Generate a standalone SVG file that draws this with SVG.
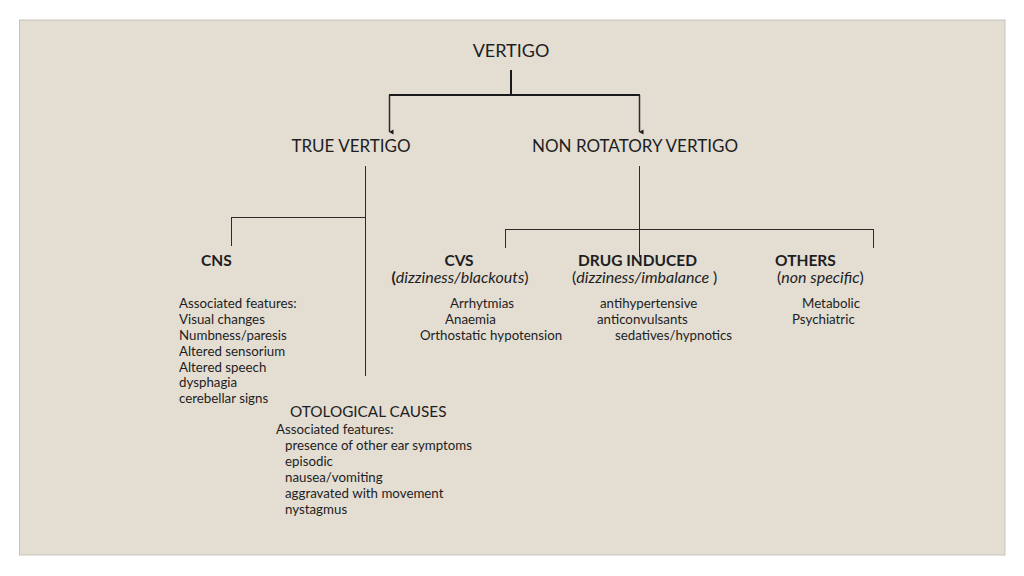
<svg xmlns="http://www.w3.org/2000/svg" width="1024" height="576" viewBox="0 0 1024 576">
<defs>
<style>
text{font-family:Lato,"Open Sans","Liberation Sans",sans-serif;fill:#1e1e1e}
.t{font-size:18px}
.h{font-size:17px}
.b{font-size:15.5px;font-weight:bold}
.s{font-size:16px}
.l{font-size:13.3px}
.ln{stroke:#2a2a2a;stroke-width:1;fill:none}
.th{stroke:#1a1a1a;stroke-width:2;fill:none}
</style>
<marker id="ah" markerWidth="6" markerHeight="6" refX="3" refY="5" orient="auto" markerUnits="userSpaceOnUse">
<path d="M0.5,1 L3,5.5 L5.5,1 Z" fill="#1a1a1a"/>
</marker>
</defs>
<rect x="0" y="0" width="1024" height="576" fill="#ffffff"/>
<rect x="19.5" y="20" width="985.5" height="535" fill="#e3ddd2" stroke="#c8c4bb" stroke-width="1"/>
<g id="connectors">
<path class="th" d="M511,70 V96"/>
<path class="th" d="M389,95 H640"/>
<path class="ln" d="M389.5,95 V132" marker-end="url(#ah)" style="stroke-width:1.5"/>
<path class="ln" d="M639.5,95 V132" marker-end="url(#ah)" style="stroke-width:1.5"/>
<path class="ln" d="M365.5,166 V376"/>
<path class="ln" d="M231.5,217.5 H365.5"/>
<path class="ln" d="M231.5,217 V246"/>
<path class="ln" d="M639.5,166 V257"/>
<path class="ln" d="M505.5,229.5 H873.5"/>
<path class="ln" d="M505.5,229 V248"/>
<path class="ln" d="M873.5,229 V248"/>
</g>
<g id="vertigo"><text class="t" x="511" y="57" text-anchor="middle">VERTIGO</text></g>
<g id="true-vertigo"><text class="h" x="351" y="152" text-anchor="middle">TRUE VERTIGO</text></g>
<g id="non-rotatory"><text class="h" x="635" y="152" text-anchor="middle">NON ROTATORY VERTIGO</text></g>
<g id="cns">
<text class="b" x="201" y="266">CNS</text>
<text class="l" x="179" y="308">Associated features:</text>
<text class="l" x="179" y="324">Visual changes</text>
<text class="l" x="179" y="340">Numbness/paresis</text>
<text class="l" x="179" y="356">Altered sensorium</text>
<text class="l" x="179" y="372">Altered speech</text>
<text class="l" x="179" y="387">dysphagia</text>
<text class="l" x="179" y="403">cerebellar signs</text>
</g>
<g id="cvs">
<text class="b" x="459" y="266" text-anchor="middle">CVS</text>
<text class="s" x="460" y="283" text-anchor="middle"><tspan font-weight="bold">(</tspan><tspan font-style="italic">dizziness/blackouts</tspan>)</text>
<text class="l" x="450" y="308">Arrhytmias</text>
<text class="l" x="445" y="324">Anaemia</text>
<text class="l" x="420" y="340">Orthostatic hypotension</text>
</g>
<g id="drug">
<text class="b" x="578" y="266">DRUG INDUCED</text>
<text class="s" x="572" y="283">(<tspan font-style="italic">dizziness/imbalance </tspan>)</text>
<text class="l" x="600" y="308">antihypertensive</text>
<text class="l" x="597" y="324">anticonvulsants</text>
<text class="l" x="615" y="340">sedatives/hypnotics</text>
</g>
<g id="others">
<text class="b" x="775" y="266">OTHERS</text>
<text class="s" x="777" y="283">(<tspan font-style="italic">non specific</tspan>)</text>
<text class="l" x="802" y="308">Metabolic</text>
<text class="l" x="792" y="324">Psychiatric</text>
</g>
<g id="otological">
<text x="290" y="417" style="font-size:15.3px">OTOLOGICAL CAUSES</text>
<text class="l" x="276" y="434">Associated features:</text>
<text class="l" x="285" y="450">presence of other ear symptoms</text>
<text class="l" x="285" y="466">episodic</text>
<text class="l" x="285" y="482">nausea/vomiting</text>
<text class="l" x="285" y="498">aggravated with movement</text>
<text class="l" x="285" y="514">nystagmus</text>
</g>
</svg>
